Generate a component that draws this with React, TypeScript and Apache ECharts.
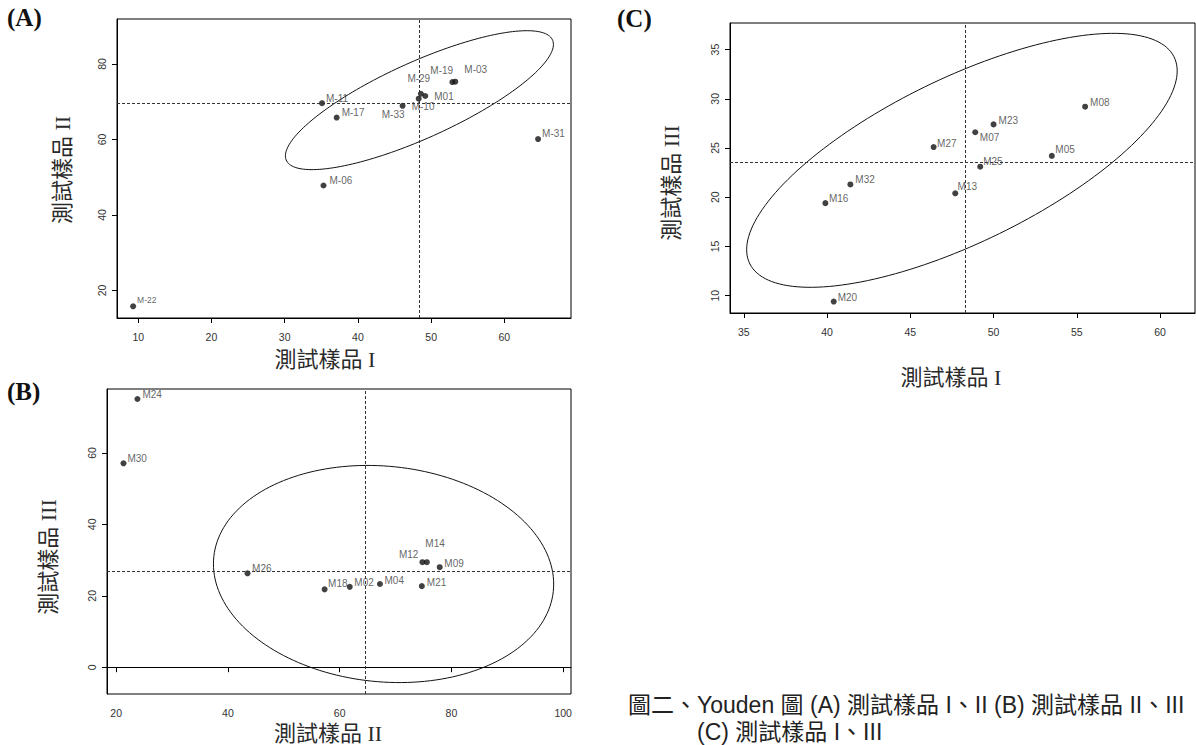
import React, { useEffect, useRef } from "react";
import * as echarts from "echarts";

// ---------- Panel A: 測試樣品 I (x) vs 測試樣品 II (y)
const labelsA = ["M-22", "M-11", "M-17", "M-06", "M-33", "M-10", "M-29", "M01", "M-19", "M-03", "M-31"];
const sampleI_A = [9.3, 35.1, 37.1, 35.3, 46.1, 48.3, 48.6, 49.2, 52.9, 53.3, 64.6];
const sampleII_A = [15.8, 69.6, 65.8, 47.8, 68.9, 70.8, 72.1, 71.5, 75.2, 75.3, 60.1];
const medianA = [48.4, 69.6];
const ellipseA = { cx: 48.4, cy: 70.4, rx: 18.3, ry: 18.4, phase: 0.64 };
const ticksAx = [10, 20, 30, 40, 50, 60];
const ticksAy = [20, 40, 60, 80];

// ---------- Panel B: 測試樣品 II (x) vs 測試樣品 III (y)
const labelsB = ["M24", "M30", "M26", "M18", "M02", "M04", "M12", "M14", "M09", "M21"];
const sampleII_B = [23.8, 21.3, 43.5, 57.3, 61.8, 67.2, 74.8, 75.6, 77.9, 74.7];
const sampleIII_B = [75.1, 57.1, 26.3, 21.8, 22.5, 23.3, 29.4, 29.4, 28.0, 22.7];
const medianB = [64.5, 27.0];
const ellipseB = { cx: 67.85, cy: 26.1, rx: 30.45, ry: 30.4, phase: 1.664 };
const ticksBx = [20, 40, 60, 80, 100];
const ticksBy = [0, 20, 40, 60];

// ---------- Panel C: 測試樣品 I (x) vs 測試樣品 III (y)
const labelsC = ["M08", "M23", "M07", "M27", "M05", "M25", "M32", "M13", "M16", "M20"];
const sampleI_C = [55.5, 50.0, 48.9, 46.4, 53.5, 49.2, 41.4, 47.7, 39.9, 40.4];
const sampleIII_C = [29.2, 27.4, 26.6, 25.1, 24.2, 23.1, 21.3, 20.4, 19.4, 9.4];
const medianC = [48.3, 23.6];
const ellipseC = { cx: 48.1, cy: 23.75, rx: 12.93, ry: 12.9, phase: 0.79 };
const ticksCx = [35, 40, 45, 50, 55, 60];
const ticksCy = [10, 15, 20, 25, 30, 35];

const titleI = "測試樣品 I";
const titleII = "測試樣品 II";
const titleIII = "測試樣品 III";
const caption1 = "圖二、Youden 圖 (A) 測試樣品 I、II (B) 測試樣品 II、III";
const caption2 = "(C) 測試樣品 I、III";

// label placement (pixels relative to point centre)
const offA: Record<string, [number, number, string]> = {
  "M-22": [4, -6, "left"], "M-11": [4, -5, "left"], "M-17": [5, -5, "left"], "M-06": [6, -5, "left"],
  "M-33": [2, 9, "right"], "M-10": [-7, 8, "left"], "M-29": [-13.5, -15, "left"], "M01": [9, 0, "left"],
  "M-19": [-22, -12, "left"], "M-03": [9, -12, "left"], "M-31": [4, -6, "left"],
};
const offB: Record<string, [number, number, string]> = {
  M24: [5, -5, "left"], M30: [4, -5, "left"], M26: [4.6, -5, "left"], M18: [3.5, -6, "left"],
  M02: [4.6, -4, "left"], M04: [4.6, -4, "left"], M12: [-4, -8, "right"], M14: [-1.5, -19, "left"],
  M09: [4.6, -4, "left"], M21: [5, -4, "left"],
};
const offC: Record<string, [number, number, string]> = {
  M08: [5, -4, "left"], M23: [5, -4, "left"], M07: [4.6, 5, "left"], M27: [3.5, -4, "left"],
  M05: [3.5, -6, "left"], M25: [3, -5, "left"], M32: [5, -5, "left"], M13: [2.3, -7, "left"],
  M16: [3.5, -5, "left"], M20: [4, -4, "left"],
};

const SYM = 6;
const TITLE_FONT = "'Liberation Serif', 'Noto Sans CJK TC', serif";
const SANS = "'Liberation Sans', Arial, sans-serif";
const CAPTION_FONT = "23px 'Liberation Sans', 'Noto Sans CJK TC', sans-serif";

function ellipsePoints(e: { cx: number; cy: number; rx: number; ry: number; phase: number }) {
  const pts: number[][] = [];
  const n = 180;
  for (let i = 0; i <= n; i++) {
    const t = (i / n) * Math.PI * 2;
    pts.push([e.cx + e.rx * Math.cos(t), e.cy + e.ry * Math.cos(t - e.phase)]);
  }
  return pts;
}

function pointData(xs: number[], ys: number[], labels: string[], off: Record<string, [number, number, string]>) {
  return xs.map((x, i) => {
    const o = off[labels[i]] || [4, -5, "left"];
    return {
      value: [x, ys[i]],
      name: labels[i],
      label: {
        show: true,
        formatter: labels[i],
        position: [SYM / 2 + o[0], SYM / 2 + o[1]],
        align: o[2],
        verticalAlign: "middle",
        fontSize: labels[i] === "M-22" ? 8.5 : 10,
        fontFamily: SANS,
        color: "#3a3a3a",
        textBorderWidth: 0,
      },
    };
  });
}

function xAxisCfg(gridIndex: number, min: number, max: number, ticks: number[]) {
  return {
    type: "value",
    gridIndex,
    min,
    max,
    axisLine: { show: true, lineStyle: { color: "#000", width: 1 } },
    axisTick: { show: true, length: 5, customValues: ticks, lineStyle: { color: "#000" } },
    axisLabel: { customValues: ticks, fontSize: 10.5, color: "#333", fontFamily: SANS, margin: 13 },
    splitLine: { show: false },
  };
}

function yAxisCfg(gridIndex: number, min: number, max: number, ticks: number[]) {
  return {
    type: "value",
    gridIndex,
    min,
    max,
    axisLine: { show: true, lineStyle: { color: "#000", width: 1 } },
    axisTick: { show: true, length: 5, customValues: ticks, lineStyle: { color: "#000" } },
    axisLabel: { customValues: ticks, fontSize: 10.5, color: "#333", fontFamily: SANS, margin: 10, rotate: 90 },
    splitLine: { show: false },
  };
}

function medianLines(m: number[]) {
  return {
    silent: true,
    symbol: "none",
    label: { show: false },
    lineStyle: { type: [3, 2], color: "#333", width: 1 },
    data: [{ xAxis: m[0] }, { yAxis: m[1] }],
  };
}

function axisTitle(text: string, x: number, y: number, vertical: boolean) {
  return {
    type: "text",
    x,
    y,
    rotation: vertical ? Math.PI / 2 : 0,
    style: {
      text,
      font: `22px ${TITLE_FONT}`,
      fill: "#2a2a2a",
      align: "center",
      verticalAlign: "middle",
    },
  };
}

export default function App() {
  const ref = useRef<HTMLDivElement>(null);
  useEffect(() => {
    if (!ref.current) return;
    const chart = echarts.init(ref.current, undefined, { renderer: "svg" });
    const grids = [
      { left: 117, top: 19, width: 454, height: 299 },
      { left: 107, top: 389, width: 464, height: 305 },
      { left: 730, top: 23, width: 465, height: 290 },
    ].map((g) => ({ ...g, show: true, borderColor: "#000", borderWidth: 1, backgroundColor: "transparent" }));

    const scatterBase = {
      type: "scatter",
      symbol: "circle",
      symbolSize: SYM,
      itemStyle: { color: "#111" },
      silent: true,
    };
    const lineBase = {
      type: "line",
      showSymbol: false,
      symbol: "none",
      lineStyle: { color: "#111", width: 1 },
      silent: true,
      clip: true,
    };

    chart.setOption({
      animation: false,
      backgroundColor: "#fff",
      grid: grids,
      xAxis: [
        xAxisCfg(0, 7.1, 69.1, ticksAx),
        xAxisCfg(1, 18.35, 101.4, ticksBx),
        xAxisCfg(2, 34.17, 62.1, ticksCx),
      ],
      yAxis: [
        yAxisCfg(0, 12.7, 91.9, ticksAy),
        yAxisCfg(1, -7.5, 77.9, ticksBy),
        yAxisCfg(2, 8.24, 37.7, ticksCy),
      ],
      series: [
        { ...lineBase, xAxisIndex: 0, yAxisIndex: 0, data: ellipsePoints(ellipseA) },
        { ...scatterBase, xAxisIndex: 0, yAxisIndex: 0, data: pointData(sampleI_A, sampleII_A, labelsA, offA), markLine: medianLines(medianA) },
        { ...lineBase, xAxisIndex: 1, yAxisIndex: 1, data: ellipsePoints(ellipseB) },
        { ...scatterBase, xAxisIndex: 1, yAxisIndex: 1, data: pointData(sampleII_B, sampleIII_B, labelsB, offB), markLine: medianLines(medianB) },
        { ...lineBase, xAxisIndex: 2, yAxisIndex: 2, data: ellipsePoints(ellipseC) },
        { ...scatterBase, xAxisIndex: 2, yAxisIndex: 2, data: pointData(sampleI_C, sampleIII_C, labelsC, offC), markLine: medianLines(medianC) },
      ],
      graphic: [
        axisTitle(titleI, 325, 359, false),
        axisTitle(titleII, 62, 170, true),
        axisTitle(titleII, 328, 733, false),
        axisTitle(titleIII, 48, 557, true),
        axisTitle(titleI, 951, 377, false),
        axisTitle(titleIII, 671, 183, true),
        { type: "text", left: 7, top: 5, style: { text: "(A)", font: "bold 25px 'Liberation Serif', serif", fill: "#111" } },
        { type: "text", left: 7, top: 379, style: { text: "(B)", font: "bold 25px 'Liberation Serif', serif", fill: "#111" } },
        { type: "text", left: 617, top: 6, style: { text: "(C)", font: "bold 25px 'Liberation Serif', serif", fill: "#111" } },
        { type: "text", x: 628, y: 705, style: { text: caption1, font: CAPTION_FONT, fill: "#222", verticalAlign: "middle" } },
        { type: "text", x: 697, y: 732, style: { text: caption2, font: CAPTION_FONT, fill: "#222", verticalAlign: "middle" } },
      ],
    });
    return () => chart.dispose();
  }, []);
  return <div ref={ref} style={{ position: "absolute", left: 0, top: 0, width: 1196, height: 745 }} />;
}
